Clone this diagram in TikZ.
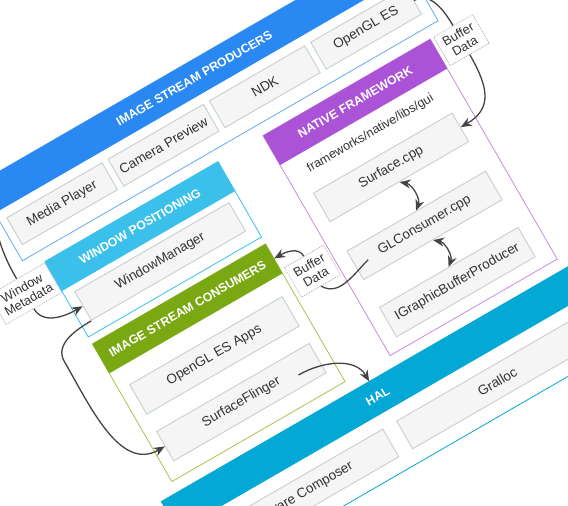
\documentclass[tikz,border=0pt]{standalone}
\usepackage{fontspec}
\setmainfont{Liberation Sans}
\usetikzlibrary{arrows.meta}

\definecolor{prodblue}{RGB}{41,136,241}
\definecolor{prodline}{RGB}{100,170,240}
\definecolor{winblue}{RGB}{58,192,234}
\definecolor{natpurple}{RGB}{171,83,214}
\definecolor{natline}{RGB}{196,140,226}
\definecolor{consgreen}{RGB}{122,168,18}
\definecolor{consline}{RGB}{165,198,80}
\definecolor{halblue}{RGB}{3,168,212}
\definecolor{boxfill}{RGB}{245,245,245}
\definecolor{boxline}{RGB}{200,212,208}
\definecolor{txt}{RGB}{51,51,51}
\definecolor{wirecol}{RGB}{68,68,68}

\begin{document}
\begin{tikzpicture}[x=1pt,y=1pt]
	\tikzset{
		layer/.style={draw,line width=0.8pt,inner sep=0pt,transform shape},
		layerhead/.style={inner sep=0pt,minimum height=34,text=white,font=\fontsize{12.3}{14}\selectfont\bfseries,transform shape},
		part/.style={draw=boxline,fill=boxfill,line width=1pt,inner sep=0pt,text=txt,font=\fontsize{13.5}{15}\selectfont,transform shape},
		note/.style={draw=black!35,dash pattern=on 1pt off 1pt,line width=0.6pt,fill=white,inner sep=0pt,align=center,text=txt,font=\fontsize{12.8}{13.5}\selectfont,transform shape},
		wire/.style={draw=wirecol,line width=1.3pt},
		arr/.style={-{Stealth[length=11pt,width=9pt]}},
		dblarr/.style={{Stealth[length=11pt,width=9pt]}-{Stealth[length=11pt,width=9pt]}}
	}
	\fill[white] (0,0) rectangle (568,-506);
	\useasboundingbox (0,0) rectangle (568,-506);
	\clip (0,0) rectangle (568,-506);

	\begin{scope}[rotate=30]
	%% Image stream producers
	\node[layer,draw=prodline,minimum width=480,minimum height=89] (prod) at (129,-192.5) {};
	\node[layerhead,fill=prodblue,minimum width=480] (prodhead) at (129,-165) {IMAGE STREAM PRODUCERS};
	\node[part,minimum width=110,minimum height=31] (mp) at (-48,-207.5) {Media Player};
	\node[part,minimum width=110,minimum height=31] (cp) at (69,-207.5) {Camera Preview};
	\node[part,minimum width=110,minimum height=31] (ndk) at (186,-207.5) {NDK};
	\node[part,minimum width=110,minimum height=31] (ogl) at (303,-207.5) {OpenGL ES};

	%% Window positioning
	\node[layer,draw=winblue,minimum width=200,minimum height=87] (win) at (8,-292.5) {};
	\node[layerhead,fill=winblue,minimum width=200] (winhead) at (8,-266) {WINDOW POSITIONING};
	\node[part,minimum width=178,minimum height=33] (wm) at (8,-306.5) {WindowManager};

	%% Native framework
	\node[layer,draw=natline,minimum width=193,minimum height=254] (nat) at (256.5,-376) {};
	\node[layerhead,fill=natpurple,minimum width=193] (nathead) at (256.5,-266) {NATIVE FRAMEWORK};
	\node[text=txt,font=\fontsize{12.5}{14}\selectfont,transform shape] (gui) at (254,-301) {frameworks/native/libs/gui};
	\node[part,minimum width=160,minimum height=33] (surf) at (255,-340.5) {Surface.cpp};
	\node[part,minimum width=160,minimum height=33] (glc) at (255,-407.5) {GLConsumer.cpp};
	\node[part,minimum width=160,minimum height=34] (igbp) at (255,-473) {IGraphicBufferProducer};

	%% Image stream consumers
	\node[layer,draw=consline,minimum width=200,minimum height=159] (cons) at (8,-423.5) {};
	\node[layerhead,fill=consgreen,minimum width=200] (conshead) at (8,-361) {IMAGE STREAM CONSUMERS};
	\node[part,minimum width=176,minimum height=34] (glapps) at (8,-415) {OpenGL ES Apps};
	\node[part,minimum width=176,minimum height=34] (sf) at (8,-469) {SurfaceFlinger};

	%% HAL
	\node[layer,draw=halblue,minimum width=480,minimum height=95] (hal) at (129,-562.5) {};
	\node[layerhead,fill=halblue,minimum width=480] (halhead) at (129,-532) {HAL};
	\node[part,minimum width=214,minimum height=32] (hwc) at (10,-579) {Hardware Composer};
	\node[part,minimum width=214,minimum height=32] (gralloc) at (240,-579) {Gralloc};

	%% labels on the connectors
	\node[note,minimum width=45,minimum height=33] (bd1) at (379.5,-265.5) {Buffer\\Data};
	\node[note,minimum width=45,minimum height=34] (bd2) at (135,-391) {Buffer\\Data};
	\node[note,minimum width=64,minimum height=34] (wml) at (-125,-267) {Window\\Metadata};

	%% free ends
	\coordinate (wmsrc) at (-112,-180);
	\coordinate (wmbend) at (-125,-345);
	\coordinate (glcout) at (189,-409);
	\coordinate (sfout) at (71,-474);

	%% connectors
	\draw[wire] (ogl.east) to[out=0,in=90] (bd1.north);
	\draw[wire,arr] (bd1.south) to[out=-90,in=0,looseness=1.3] (surf.east);
	\draw[wire,dblarr] (surf.south) to[bend left=50] (glc.north);
	\draw[wire,dblarr] (glc.south) to[bend left=50] (igbp.north);
	\draw[wire] (glcout) to[out=195,in=-60] (bd2.south);
	\draw[wire,arr] (bd2.north) to[out=90,in=0] (conshead.east);
	\draw[wire] (wmsrc) to[out=-110,in=90] (wml.north);
	\draw[wire,arr] (wml.south) to[out=-90,in=180] (wm.west);
	\draw[wire,arr] (wm.south west) to[out=180,in=90] (wmbend) to[out=-90,in=180] (sf.west);
	\draw[wire,arr] (sfout) to[out=0,in=90] (halhead.north);
	\end{scope}
\end{tikzpicture}
\end{document}
